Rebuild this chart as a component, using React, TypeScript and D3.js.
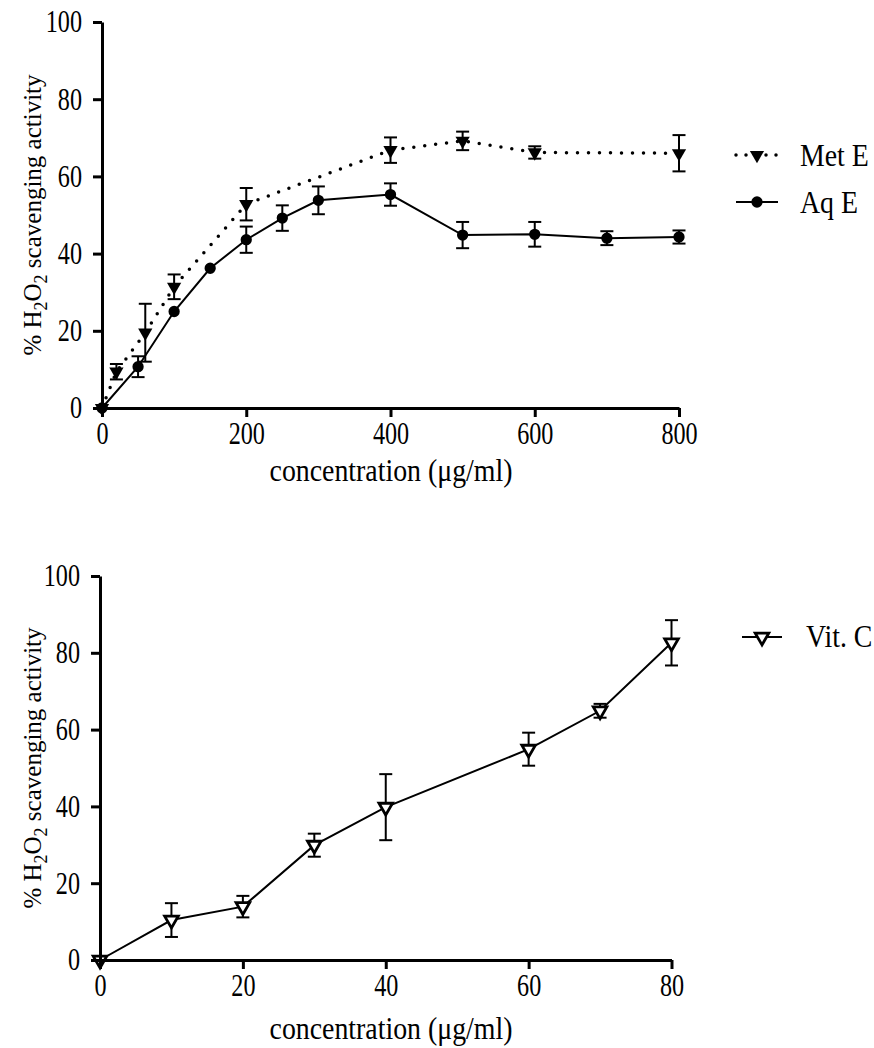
import React, { useEffect, useRef } from 'react';
import * as d3 from 'd3';

// Met E (methanolic extract)
const metConc = [0, 20, 60, 100, 200, 400, 500, 600, 800];
const metVal = [0, 9.4, 19.5, 31.4, 52.8, 66.8, 69.2, 66.2, 66];
const metErr = [0, 2, 7.5, 3.2, 4.2, 3.3, 2.4, 1.6, 4.7];

// Aq E (aqueous extract)
const aqConc = [0, 50, 100, 150, 200, 250, 300, 400, 500, 600, 700, 800];
const aqVal = [0, 10.7, 25, 36.2, 43.6, 49.2, 53.8, 55.3, 44.8, 45, 44, 44.3];
const aqErr = [0, 2.7, 0, 0, 3.4, 3.3, 3.6, 2.9, 3.4, 3.2, 1.8, 1.7];

// Vit. C (standard)
const vitConc = [0, 10, 20, 30, 40, 60, 70, 80];
const vitVal = [0, 10.4, 13.9, 29.9, 39.8, 54.9, 64.9, 82.6];
const vitErr = [0, 4.4, 2.8, 3, 8.6, 4.3, 1.8, 5.9];

const topXTicks = [0, 200, 400, 600, 800];
const botXTicks = [0, 20, 40, 60, 80];
const yTicks = [0, 20, 40, 60, 80, 100];

const FONT = 'Liberation Serif';
const TICK_FS = 31;
const TICK_SQ = 0.78; // glyphs in the figure look narrow
const LAB_FS = 32;
const LAB_SQ = 0.87;

type Pt = { x: number; y: number; e: number };
const zip = (xs: number[], ys: number[], es: number[]): Pt[] =>
  xs.map((x, i) => ({ x, y: ys[i], e: es[i] }));

const App = () => {
  const ref = useRef<SVGSVGElement | null>(null);

  useEffect(() => {
    const svg = d3.select(ref.current);
    svg.selectAll('*').remove();

    const label = (x: number, y: number, txt: string, anchor = 'start') =>
      svg
        .append('text')
        .attr('transform', `translate(${x},${y}) scale(${LAB_SQ},1)`)
        .attr('text-anchor', anchor)
        .attr('font-family', FONT)
        .attr('font-size', LAB_FS)
        .text(txt);

    const drawAxes = (x: any, y: any, xTicks: number[]) => {
      const gx = svg
        .append('g')
        .attr('transform', `translate(0,${y(0)})`)
        .call(d3.axisBottom(x).tickValues(xTicks).tickSize(9).tickSizeOuter(0).tickPadding(5));
      const gy = svg
        .append('g')
        .attr('transform', `translate(${x(0)},0)`)
        .call(d3.axisLeft(y).tickValues(yTicks).tickSize(9).tickSizeOuter(0).tickPadding(0));
      [gx, gy].forEach((g) => {
        g.attr('font-family', FONT).attr('font-size', TICK_FS);
        g.select('.domain').attr('stroke', '#000').attr('stroke-width', 3);
        g.selectAll('.tick line').attr('stroke', '#000').attr('stroke-width', 3);
        g.selectAll('.tick text').attr('fill', '#000');
      });
      gx.selectAll('.tick text').attr('transform', `scale(${TICK_SQ},1)`);
      gy.selectAll('.tick text').attr('x', -20 / TICK_SQ).attr('transform', `scale(${TICK_SQ},1)`);
    };

    const yLabel = (cx: number, cy: number) => {
      const t = svg
        .append('text')
        .attr('transform', `translate(${cx},${cy}) rotate(-90)`)
        .attr('text-anchor', 'middle')
        .attr('dy', '0.35em')
        .attr('font-family', FONT)
        .attr('font-size', 25);
      t.append('tspan').text('% H');
      t.append('tspan').attr('dy', 6).attr('font-size', 18).text('2');
      t.append('tspan').attr('dy', -6).text('O');
      t.append('tspan').attr('dy', 6).attr('font-size', 18).text('2');
      t.append('tspan').attr('dy', -6).text(' scavenging activity');
    };

    const errorBars = (data: Pt[], x: any, y: any) => {
      const g = svg.append('g').attr('stroke', '#000').attr('stroke-width', 2);
      data
        .filter((d) => d.e > 0)
        .forEach((d) => {
          const cx = x(d.x);
          const y1 = y(d.y + d.e);
          const y2 = y(d.y - d.e);
          g.append('line').attr('x1', cx).attr('x2', cx).attr('y1', y1).attr('y2', y2);
          g.append('line').attr('x1', cx - 6.5).attr('x2', cx + 6.5).attr('y1', y1).attr('y2', y1);
          g.append('line').attr('x1', cx - 6.5).attr('x2', cx + 6.5).attr('y1', y2).attr('y2', y2);
        });
    };

    const tri = d3.symbol().type(d3.symbolTriangle).size(88)();
    const triOpen = d3.symbol().type(d3.symbolTriangle).size(80)();
    const circ = d3.symbol().type(d3.symbolCircle).size(100)();

    // ---------- top chart ----------
    const x1 = d3.scaleLinear().domain([0, 800]).range([102, 679]);
    const y1 = d3.scaleLinear().domain([0, 100]).range([408, 22]);
    const met = zip(metConc, metVal, metErr);
    const aq = zip(aqConc, aqVal, aqErr);
    const line1 = d3
      .line<Pt>()
      .x((d) => x1(d.x))
      .y((d) => y1(d.y));

    errorBars(met, x1, y1);
    errorBars(aq, x1, y1);

    svg
      .append('path')
      .attr('d', line1(met))
      .attr('fill', 'none')
      .attr('stroke', '#000')
      .attr('stroke-width', 3.5)
      .attr('stroke-linecap', 'round')
      .attr('stroke-dasharray', '0 11');
    svg
      .append('path')
      .attr('d', line1(aq))
      .attr('fill', 'none')
      .attr('stroke', '#000')
      .attr('stroke-width', 2);

    svg
      .append('g')
      .selectAll('path')
      .data(met)
      .enter()
      .append('path')
      .attr('d', tri)
      .attr('transform', (d) => `translate(${x1(d.x)},${y1(d.y)}) rotate(180)`)
      .attr('fill', '#000');
    svg
      .append('g')
      .selectAll('path')
      .data(aq)
      .enter()
      .append('path')
      .attr('d', circ)
      .attr('transform', (d) => `translate(${x1(d.x)},${y1(d.y)})`)
      .attr('fill', '#000');

    drawAxes(x1, y1, topXTicks);
    yLabel(32, 215);
    label(391, 481, 'concentration (μg/ml)', 'middle');

    // top legend
    svg.append('line')
      .attr('x1', 736).attr('x2', 778).attr('y1', 155).attr('y2', 155)
      .attr('stroke', '#000').attr('stroke-width', 3.5)
      .attr('stroke-linecap', 'round').attr('stroke-dasharray', '0 10');
    svg.append('path').attr('d', tri).attr('transform', 'translate(757,155) rotate(180)');
    label(800, 166, 'Met E');
    svg.append('line')
      .attr('x1', 736).attr('x2', 778).attr('y1', 202).attr('y2', 202)
      .attr('stroke', '#000').attr('stroke-width', 2);
    svg.append('path').attr('d', circ).attr('transform', 'translate(757,202)');
    label(800, 213, 'Aq E');

    // ---------- bottom chart ----------
    const x2 = d3.scaleLinear().domain([0, 80]).range([100, 671.5]);
    const y2 = d3.scaleLinear().domain([0, 100]).range([960, 576]);
    const vit = zip(vitConc, vitVal, vitErr);
    const line2 = d3
      .line<Pt>()
      .x((d) => x2(d.x))
      .y((d) => y2(d.y));

    errorBars(vit, x2, y2);
    svg
      .append('path')
      .attr('d', line2(vit))
      .attr('fill', 'none')
      .attr('stroke', '#000')
      .attr('stroke-width', 2);
    svg
      .append('g')
      .selectAll('path')
      .data(vit)
      .enter()
      .append('path')
      .attr('d', triOpen)
      .attr('transform', (d) => `translate(${x2(d.x)},${y2(d.y)}) rotate(180)`)
      .attr('fill', '#fff')
      .attr('stroke', '#000')
      .attr('stroke-width', 2.8);

    drawAxes(x2, y2, botXTicks);
    yLabel(32, 768);
    label(391, 1039, 'concentration (μg/ml)', 'middle');

    svg.append('line')
      .attr('x1', 742).attr('x2', 782).attr('y1', 637).attr('y2', 637)
      .attr('stroke', '#000').attr('stroke-width', 2);
    svg.append('path')
      .attr('d', triOpen)
      .attr('transform', 'translate(762,637) rotate(180)')
      .attr('fill', '#fff').attr('stroke', '#000').attr('stroke-width', 2.8);
    label(806, 647, 'Vit. C');
  }, []);

  return (
    <svg
      ref={ref}
      width={874}
      height={1048}
      style={{ position: 'absolute', left: 0, top: 0, background: '#fff' }}
    />
  );
};

export default App;
